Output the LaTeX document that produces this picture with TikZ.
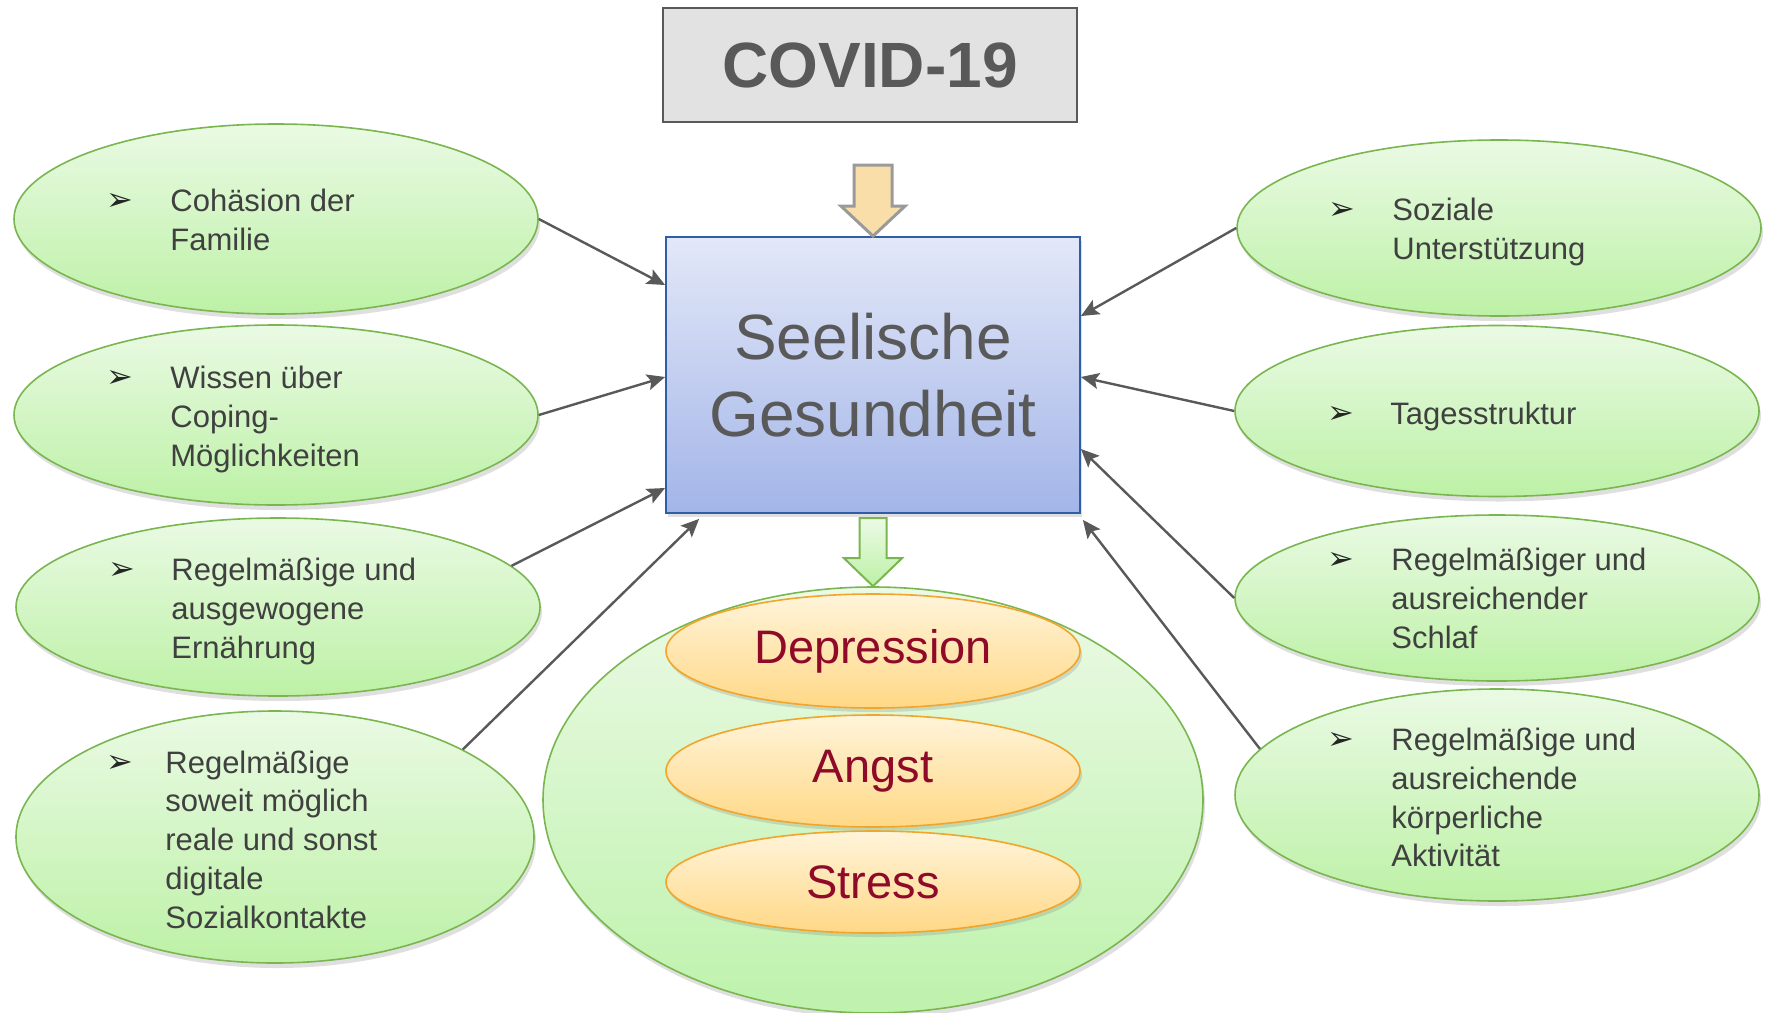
\documentclass[tikz,border=0pt]{standalone}
\usepackage{fontspec}
\setmainfont{Liberation Sans}
\newfontfamily\bulletfont{DejaVu Sans}
\usetikzlibrary{shapes.geometric,arrows.meta,shadows}
\definecolor{txtgray}{HTML}{404040}
\definecolor{headgray}{HTML}{595959}
\definecolor{connGray}{HTML}{595959}
\definecolor{grEdge}{HTML}{7AB650}
\definecolor{grTop}{HTML}{EAFAE4}
\definecolor{grBot}{HTML}{BDF1A6}
\definecolor{bigTop}{HTML}{ECFAE6}
\definecolor{bigBot}{HTML}{BEF2AC}
\definecolor{blEdge}{HTML}{2F5DA6}
\definecolor{blTop}{HTML}{E3E8F8}
\definecolor{blBot}{HTML}{A3B5E8}
\definecolor{orEdge}{HTML}{F2A52A}
\definecolor{orTop}{HTML}{FFF4DA}
\definecolor{orBot}{HTML}{FFD886}
\definecolor{darkred}{HTML}{8E0A28}
\definecolor{covFill}{HTML}{E2E2E2}
\definecolor{yFill}{HTML}{F9DEA9}
\definecolor{yEdge}{HTML}{9A9A9A}
\newcommand{\bul}[1]{\makebox[#1][l]{\hspace{-2.5pt}\smash{\raisebox{0.5pt}{\bulletfont\fontsize{16}{16}\selectfont\color{black!85}➢}}}}
\begin{document}
\begin{tikzpicture}[x=0.5pt,y=-0.5pt,
  bubble/.style={ellipse, draw=grEdge, line width=0.8pt, top color=grTop, bottom color=grBot,
    drop shadow={opacity=0.25,shadow xshift=1pt,shadow yshift=-2.5pt}, inner sep=0pt},
  itemtxt/.style={anchor=west, inner sep=0pt, text=txtgray, font=\fontsize{15.5}{19.4}\selectfont},
  symp/.style={ellipse, draw=orEdge, line width=0.8pt, top color=orTop, bottom color=orBot,
    minimum width=207pt, inner sep=0pt, text=darkred, font=\fontsize{23.5}{28}\selectfont,
    drop shadow={opacity=0.25,shadow xshift=1pt,shadow yshift=-2pt}},
  conn/.style={draw=connGray, line width=1.2pt, -{Stealth[length=9pt,width=8pt,inset=1.8pt]}},
  ]
\useasboundingbox (0,0) rectangle (1770,1012);
\clip (0,0) rectangle (1770,1012);

% top box
\node[draw=headgray, line width=0.75pt, fill=covFill, minimum width=207pt, minimum height=57pt,
  inner sep=0pt, text=headgray, font=\fontsize{32}{38}\selectfont\bfseries] (covid) at (870,65) {COVID-19};

% central box
\node[draw=blEdge, line width=0.9pt, top color=blTop, bottom color=blBot, minimum width=207pt,
  minimum height=138pt, inner sep=0pt, align=center, text=headgray,
  font=\fontsize{32}{38.5}\selectfont,
  drop shadow={opacity=0.25,shadow xshift=1pt,shadow yshift=-2pt}] (box) at (873,375) {Seelische\\Gesundheit};

% yellow block arrow
\path[draw=yEdge, line width=1.5pt, fill=yFill, line join=miter]
  (box.north) -- ++(-32,-30) -- ++(13,0) -- ++(0,-41) -- ++(38,0) -- ++(0,41) -- ++(13,0) -- cycle;

% big ellipse
\node[ellipse, draw=grEdge, line width=0.8pt, top color=bigTop, bottom color=bigBot,
  minimum width=330pt, minimum height=213pt, inner sep=0pt,
  drop shadow={opacity=0.25,shadow xshift=1pt,shadow yshift=-2.5pt}] (big) at (873,800) {};

% green block arrow
\path[draw=grEdge, line width=1pt, top color=bigTop, bottom color=grBot, line join=miter]
  (big.north) -- ++(-29,-28) -- ++(15.5,0) -- ++(0,-40) -- ++(27,0) -- ++(0,40) -- ++(15.5,0) -- cycle;

% symptoms
\node[symp, minimum height=57pt] (dep) at (873,651) {Depression};
\node[symp, minimum height=56pt] (angst) at (873,771) {Angst};
\node[symp, minimum height=51pt] (stress) at (873,882) {Stress};

% left bubbles
\node[bubble, minimum width=262pt, minimum height=95pt] (l1) at (276,219) {};
\node[bubble, minimum width=262pt, minimum height=90pt] (l2) at (276,415) {};
\node[bubble, minimum width=262pt, minimum height=89pt] (l3) at (278,607) {};
\node[bubble, minimum width=259pt, minimum height=126pt] (l4) at (275,837) {};

% right bubbles
\node[bubble, minimum width=262pt, minimum height=88pt] (r1) at (1499,228) {};
\node[bubble, minimum width=262pt, minimum height=85.5pt] (r2) at (1497,411) {};
\node[bubble, minimum width=262pt, minimum height=83pt] (r3) at (1497,598) {};
\node[bubble, minimum width=262pt, minimum height=106pt] (r4) at (1497,795) {};

% texts
\node[itemtxt] (l1t) at (111,223) {\begin{tabular}{@{}l@{}l@{}}\bul{29.5pt} & Cohäsion der\\ & Familie\end{tabular}};
\node[itemtxt] (l2t) at (111,420) {\begin{tabular}{@{}l@{}l@{}}\bul{29.5pt} & Wissen über\\ & Coping-\\ & Möglichkeiten\end{tabular}};
\node[itemtxt] (l3t) at (113,612) {\begin{tabular}{@{}l@{}l@{}}\bul{29pt} & Regelmäßige und\\ & ausgewogene\\ & Ernährung\end{tabular}};
\node[itemtxt] (l4t) at (111,843) {\begin{tabular}{@{}l@{}l@{}}\bul{27pt} & Regelmäßige\\ & soweit möglich\\ & reale und sonst\\ & digitale\\ & Sozialkontakte\end{tabular}};

\node[itemtxt] (r1t) at (1333,232) {\begin{tabular}{@{}l@{}l@{}}\bul{29.5pt} & Soziale\\ & Unterstützung\end{tabular}};
\node[itemtxt] (r2t) at (1332,417) {\begin{tabular}{@{}l@{}l@{}}\bul{29pt} & Tagesstruktur\end{tabular}};
\node[itemtxt] (r3t) at (1332,602) {\begin{tabular}{@{}l@{}l@{}}\bul{29.5pt} & Regelmäßiger und\\ & ausreichender\\ & Schlaf\end{tabular}};
\node[itemtxt] (r4t) at (1332,801) {\begin{tabular}{@{}l@{}l@{}}\bul{29.5pt} & Regelmäßige und\\ & ausreichende\\ & körperliche\\ & Aktivität\end{tabular}};

% connectors
\draw[conn] (l1.east) -- ([yshift=45pt]box.west);
\draw[conn] (l2.east) -- ([yshift=-1pt]box.west);
\draw[conn] (l3.10.6) -- ([yshift=-56.5pt]box.west);
\draw[conn] (l4.25.8) -- ([xshift=17pt,yshift=-2.5pt]box.south west);
\draw[conn] (r1.west) -- ([yshift=29.5pt]box.east);
\draw[conn] (r2.west) -- ([yshift=-1pt]box.east);
\draw[conn] (r3.west) -- ([yshift=-37pt]box.east);
\draw[conn] (r4.169.3) -- ([xshift=1pt,yshift=-3pt]box.south east);
\end{tikzpicture}
\end{document}
